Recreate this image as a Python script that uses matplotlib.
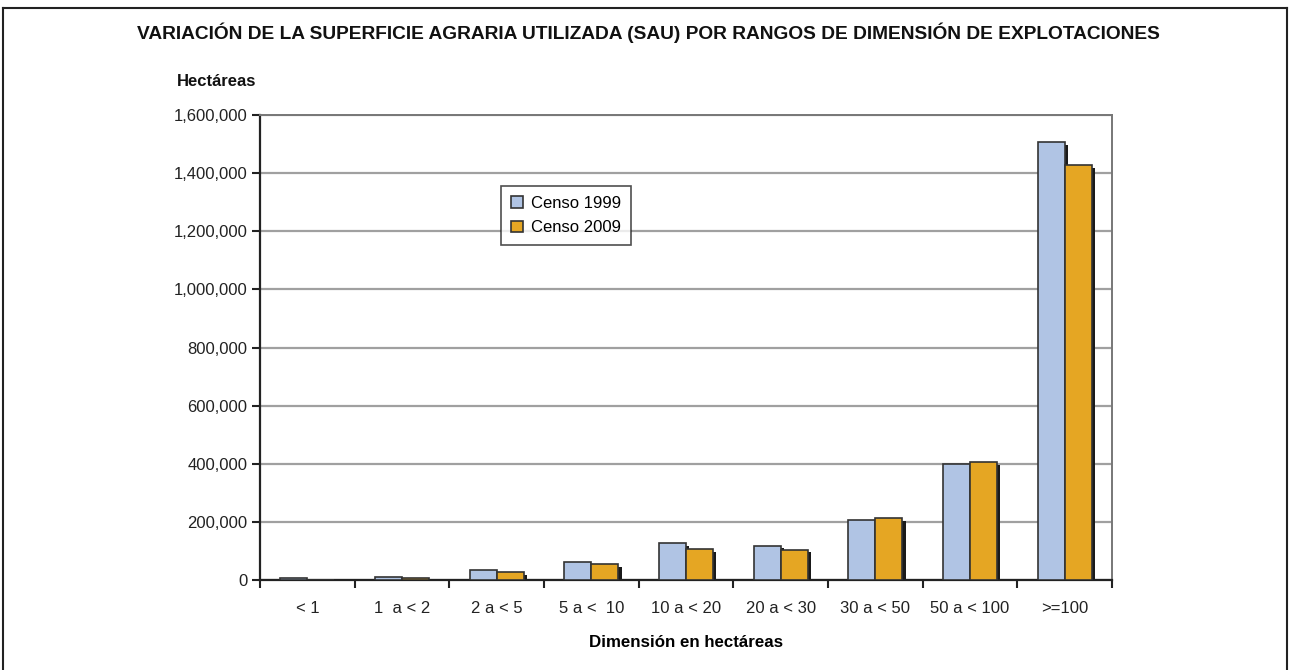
import numpy as np
import matplotlib.pyplot as plt
from matplotlib.ticker import FuncFormatter

plt.rcParams['font.family'] = ['Liberation Sans', 'DejaVu Sans']

categories = ['< 1', '1  a < 2', '2 a < 5', '5 a <  10', '10 a < 20',
              '20 a < 30', '30 a < 50', '50 a < 100', '>=100']
censo_1999 = [6000, 9000, 35000, 62000, 127000, 118000, 205000, 398000, 1506000]
censo_2009 = [1500, 8000, 27000, 55000, 107000, 104000, 213000, 405000, 1428000]

c99 = '#b0c4e4'
c09 = '#e5a623'

fig = plt.figure(figsize=(12.9, 6.7), dpi=100)
ax = fig.add_axes([260/1290, 90/670, 852/1290, 465/670])

x = np.arange(len(categories))
w = 0.285
# drop shadows
dx, dy = 0.035, -9000
for xs, vals in [(x - w/2, censo_1999), (x + w/2, censo_2009)]:
    ax.bar(xs + dx, np.array(vals), w, bottom=dy, color='#1a1a1a', zorder=2)
ax.bar(x - w/2, censo_1999, w, color=c99, edgecolor='#333333', lw=1.2, zorder=3, label='Censo 1999')
ax.bar(x + w/2, censo_2009, w, color=c09, edgecolor='#333333', lw=1.2, zorder=3, label='Censo 2009')

ax.set_xlim(-0.5, len(categories) - 0.5)
ax.set_ylim(0, 1600000)
ax.set_yticks(np.arange(0, 1600001, 200000))
ax.yaxis.set_major_formatter(FuncFormatter(lambda v, p: f'{int(v):,}'))
ax.yaxis.grid(True, color='#a0a0a0', lw=1.6, zorder=0)
ax.set_axisbelow(True)

ax.set_xticks(x)
ax.set_xticklabels(categories)
ax.set_xticks(np.arange(-0.5, len(categories)), minor=True)
ax.tick_params(axis='x', which='major', length=0, pad=15, labelsize=12, labelcolor='#222222')
ax.tick_params(axis='x', which='minor', length=6, width=1.5, color='#222222', direction='out')
ax.tick_params(axis='y', length=6, width=1.5, color='#222222', labelsize=12, labelcolor='#222222', pad=3)

ax.spines['left'].set_color('#222222')
ax.spines['left'].set_linewidth(1.6)
ax.spines['bottom'].set_color('#222222')
ax.spines['bottom'].set_linewidth(1.6)
ax.spines['right'].set_color('#777777')
ax.spines['right'].set_linewidth(1.4)
ax.spines['top'].set_color('#777777')
ax.spines['top'].set_linewidth(1.4)

ax.set_xlabel('Dimensión en hectáreas', fontsize=12.2, fontweight='bold', labelpad=14)

leg = ax.legend(loc='upper left', bbox_to_anchor=(241/852, 394/465), frameon=True,
                fancybox=False, fontsize=12, handlelength=0.7, handleheight=0.7,
                handletextpad=0.5, borderpad=0.6, labelspacing=0.55, borderaxespad=0)
leg.get_frame().set_edgecolor('#222222')
leg.get_frame().set_linewidth(1.2)

fig.text(648/1290, 1 - 33/670, 'VARIACIÓN DE LA SUPERFICIE AGRARIA UTILIZADA (SAU) POR RANGOS DE DIMENSIÓN DE EXPLOTACIONES',
         ha='center', va='center', fontsize=13.8, fontweight='bold', color='#111111')
fig.text(177/1290, 1 - 82/670, 'Hectáreas', ha='left', va='center', fontsize=12,
         fontweight='bold', color='#111111')

# page frame
fig.add_artist(plt.Line2D([3/1290, 3/1290], [0, 1 - 8/670], color='#222222', lw=1.5))
fig.add_artist(plt.Line2D([3/1290, 1287/1290], [1 - 8/670, 1 - 8/670], color='#222222', lw=1.5))
fig.add_artist(plt.Line2D([1287/1290, 1287/1290], [0, 1 - 8/670], color='#222222', lw=1.5))

fig.savefig('out.png', dpi=100)
